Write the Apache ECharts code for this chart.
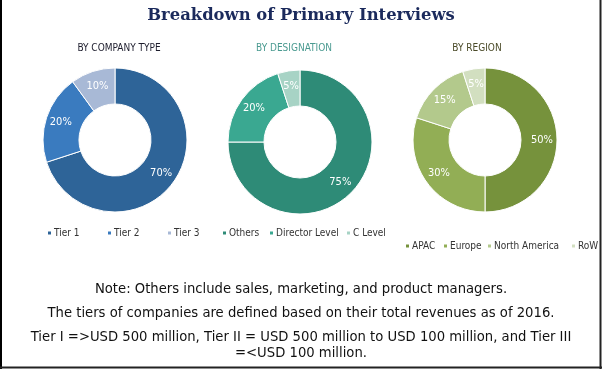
<!DOCTYPE html>
<html>
<head>
<meta charset="utf-8">
<script src="https://cdn.jsdelivr.net/npm/echarts@6/dist/echarts.min.js"></script>
<style>
html,body{margin:0;padding:0;background:#fff;}
#chart{width:602px;height:369px;}
</style>
</head>
<body>
<div id="chart"></div>
<script>
// ---- data ----
const chartTitle = 'Breakdown of Primary Interviews';
const companyTypes = ['Tier 1', 'Tier 2', 'Tier 3'];
const companyValues = [70, 20, 10];
const designations = ['Others', 'Director Level', 'C Level'];
const designationValues = [75, 20, 5];
const regions = ['APAC', 'Europe', 'North America', 'RoW'];
const regionValues = [50, 30, 15, 5];
const panelTitles = ['BY COMPANY TYPE', 'BY DESIGNATION', 'BY REGION'];
const notes = [
  'Note: Others include sales, marketing, and product managers.',
  'The tiers of companies are defined based on their total revenues as of 2016.',
  'Tier I =>USD 500 million, Tier II = USD 500 million to USD 100 million, and Tier III',
  '=<USD 100 million.'
];

// ---- layout / styles ----
const narrow = "'DejaVu Sans Condensed', 'Liberation Sans Narrow', 'Liberation Sans', sans-serif";
const colors = [
  ['#2e6498', '#3a7bbf', '#a8b9d6'],
  ['#2e8b77', '#3aa891', '#a7d3c5'],
  ['#76923c', '#92ae55', '#b3c98c', '#d2dfc0']
];
const centers = [[115, 140], [300, 142], [485, 140]];
const panelTitleX = [119, 294, 477];
const panelTitleColors = ['#1c1c2c', '#4a9a90', '#4a4a28'];
const legendPos = [
  [[46, 233], [106, 233], [166, 233]],
  [[221, 233], [268, 233], [345, 233]],
  [[404, 246], [442, 246], [486, 246], [570, 246]]
];
const noteY = [290, 314, 338, 354];

const groups = [
  [companyTypes, companyValues],
  [designations, designationValues],
  [regions, regionValues]
];

const series = groups.map((g, i) => ({
  type: 'pie',
  center: centers[i],
  radius: [36, 72],
  startAngle: 90,
  clockwise: true,
  avoidLabelOverlap: false,
  silent: true,
  itemStyle: { borderColor: '#fff', borderWidth: 1 },
  label: {
    show: true,
    position: 'inside',
    formatter: '{c}%',
    color: '#fff',
    fontFamily: narrow,
    fontSize: 11
  },
  labelLine: { show: false },
  data: g[0].map((n, k) => ({ name: n, value: g[1][k], itemStyle: { color: colors[i][k] } }))
}));

const legends = [];
groups.forEach((g, i) => {
  g[0].forEach((n, k) => {
    legends.push({
      data: [n],
      left: legendPos[i][k][0],
      top: legendPos[i][k][1] - 5,
      icon: 'rect',
      itemWidth: 5,
      itemHeight: 5,
      itemGap: 0,
      padding: 0,
      selectedMode: false,
      textStyle: { fontFamily: narrow, fontSize: 10, color: '#333', padding: [0, 0, 0, -3] }
    });
  });
});

const graphics = [];
panelTitles.forEach((t, i) => {
  graphics.push({
    type: 'text', x: panelTitleX[i], y: 48,
    style: { text: t, fill: panelTitleColors[i], font: '10px ' + narrow, textAlign: 'center', textVerticalAlign: 'middle' }
  });
});
notes.forEach((t, i) => {
  graphics.push({
    type: 'text', x: 301, y: noteY[i],
    style: { text: t, fill: '#111', font: '13.2px "DejaVu Sans"', textAlign: 'center', textVerticalAlign: 'middle' }
  });
});
// frame
graphics.push({ type: 'line', shape: { x1: 1, y1: 0, x2: 1, y2: 369 }, style: { stroke: '#000', lineWidth: 2 } });
graphics.push({ type: 'line', shape: { x1: 600.5, y1: 0, x2: 600.5, y2: 369 }, style: { stroke: '#222', lineWidth: 2 } });
graphics.push({ type: 'line', shape: { x1: 0, y1: 367.5, x2: 602, y2: 367.5 }, style: { stroke: '#222', lineWidth: 2 } });

const chart = echarts.init(document.getElementById('chart'), null, { renderer: 'canvas' });
chart.setOption({
  animation: false,
  backgroundColor: '#fff',
  title: {
    text: chartTitle,
    left: 'center',
    top: 3,
    textStyle: { fontFamily: 'DejaVu Serif', fontWeight: 'bold', fontSize: 16.4, color: '#1b2a5c' }
  },
  legend: legends,
  series: series,
  graphic: graphics
});
</script>
</body>
</html>
